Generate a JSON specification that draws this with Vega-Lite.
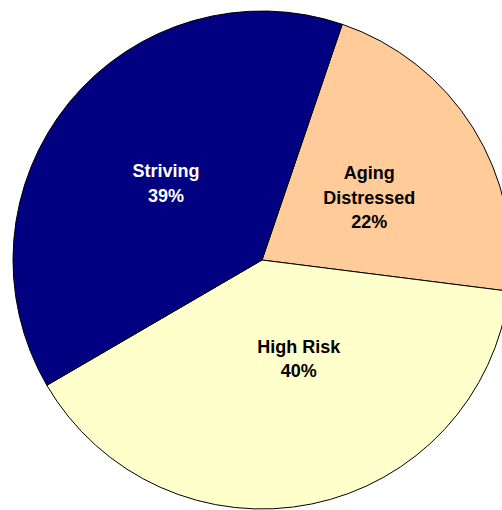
{
  "$schema": "https://vega.github.io/schema/vega-lite/v6.json",
  "width": 524,
  "height": 520,
  "padding": 0,
  "autosize": "none",
  "background": "white",
  "view": {"stroke": null},
  "data": {
    "values": [
      {"segment": "Aging Distressed", "share": 22},
      {"segment": "High Risk", "share": 40},
      {"segment": "Striving", "share": 39}
    ]
  },
  "transform": [
    {"stack": "share", "groupby": [], "sort": [{"field": "segment"}], "as": ["s0", "s1"]},
    {"calculate": "(datum.s0 + datum.s1) / 2", "as": "mid"},
    {"calculate": "(datum.segment === 'Aging Distressed' ? 'Aging|Distressed' : datum.segment) + '|' + datum.share + '%'", "as": "label"}
  ],
  "layer": [
    {
      "mark": {"type": "arc", "outerRadius": 249, "stroke": "black", "strokeWidth": 1},
      "encoding": {
        "theta": {"field": "s0", "type": "quantitative", "scale": {"domain": [0, 101], "zero": true, "nice": false, "range": [0.328, 6.6112]}},
        "theta2": {"field": "s1"},
        "color": {
          "field": "segment",
          "type": "nominal",
          "legend": null,
          "scale": {"domain": ["Aging Distressed", "High Risk", "Striving"], "range": ["#FFCC99", "#FFFFCC", "#000080"]}
        }
      }
    },
    {
      "transform": [{"filter": "datum.segment === 'Striving'"}],
      "mark": {"type": "text", "radius": 124, "dy": -9, "font": "Liberation Sans", "fontSize": 18, "fontWeight": "bold", "lineBreak": "|", "lineHeight": 24.5, "align": "center", "baseline": "middle", "color": "white"},
      "encoding": {
        "theta": {"field": "mid", "type": "quantitative"},
        "text": {"field": "label"}
      }
    },
    {
      "transform": [{"filter": "datum.segment === 'Aging Distressed'"}],
      "mark": {"type": "text", "radius": 124, "dx": 2, "dy": -20, "font": "Liberation Sans", "fontSize": 18, "fontWeight": "bold", "lineBreak": "|", "lineHeight": 24.5, "align": "center", "baseline": "middle", "color": "black"},
      "encoding": {
        "theta": {"field": "mid", "type": "quantitative"},
        "text": {"field": "label"}
      }
    },
    {
      "transform": [{"filter": "datum.segment === 'High Risk'"}],
      "mark": {"type": "text", "radius": 104, "dx": 16, "dy": -14, "font": "Liberation Sans", "fontSize": 18, "fontWeight": "bold", "lineBreak": "|", "lineHeight": 24.5, "align": "center", "baseline": "middle", "color": "black"},
      "encoding": {
        "theta": {"field": "mid", "type": "quantitative"},
        "text": {"field": "label"}
      }
    }
  ]
}
